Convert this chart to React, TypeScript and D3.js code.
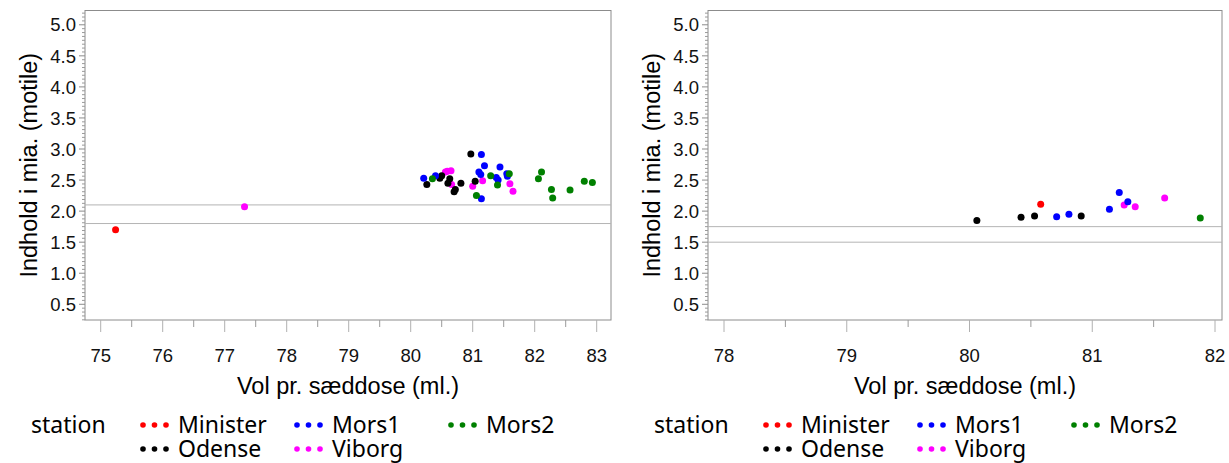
import React from "react";
import * as d3 from "d3";

const stations = ["Minister", "Mors1", "Mors2", "Odense", "Viborg"];
const stationColors = ["#ff0000", "#0000ff", "#008000", "#000000", "#ff00ff"];

// Left panel data
const leftStation = [
  "Minister",
  "Viborg", "Viborg", "Viborg", "Viborg", "Viborg", "Viborg", "Viborg", "Viborg", "Viborg",
  "Odense", "Odense", "Odense", "Odense", "Odense", "Odense", "Odense", "Odense", "Odense", "Odense",
  "Mors1", "Mors1", "Mors1", "Mors1", "Mors1", "Mors1", "Mors1", "Mors1", "Mors1", "Mors1", "Mors1", "Mors1",
  "Mors2", "Mors2", "Mors2", "Mors2", "Mors2", "Mors2", "Mors2", "Mors2", "Mors2", "Mors2", "Mors2", "Mors2",
];
const leftVol = [
  75.24,
  77.32, 80.56, 80.59, 80.65, 80.66, 81.16, 81.0, 81.6, 81.65,
  80.26, 80.47, 80.5, 80.63, 80.6, 80.81, 80.72, 80.7, 80.97, 81.04,
  80.21, 80.4, 81.14, 81.19, 81.44, 81.1, 81.13, 81.38, 81.55, 81.56, 81.41, 81.14,
  80.35, 81.29, 81.59, 81.4, 81.06, 82.11, 82.06, 82.27, 82.29, 82.57, 82.8, 82.93,
];
const leftMotile = [
  1.7,
  2.07, 2.63, 2.64, 2.65, 2.43, 2.49, 2.4, 2.44, 2.32,
  2.43, 2.53, 2.57, 2.52, 2.45, 2.45, 2.35, 2.31, 2.92, 2.48,
  2.53, 2.57, 2.91, 2.73, 2.71, 2.63, 2.59, 2.54, 2.6, 2.56, 2.5, 2.2,
  2.52, 2.57, 2.6, 2.42, 2.25, 2.63, 2.52, 2.35, 2.21, 2.34, 2.48, 2.46,
];
const leftRefLines = [2.1, 1.8];
const leftXTicks = [75, 76, 77, 78, 79, 80, 81, 82, 83];

// Right panel data
const rightStation = [
  "Odense", "Odense", "Odense", "Minister", "Mors1", "Mors1", "Odense",
  "Mors1", "Mors1", "Viborg", "Mors1", "Viborg", "Viborg", "Mors2",
];
const rightVol = [80.06, 80.42, 80.53, 80.58, 80.71, 80.81, 80.91, 81.14, 81.22, 81.26, 81.29, 81.35, 81.59, 81.88];
const rightMotile = [1.85, 1.9, 1.92, 2.11, 1.91, 1.95, 1.92, 2.03, 2.3, 2.1, 2.15, 2.07, 2.21, 1.89];
const rightRefLines = [1.75, 1.5];
const rightXTicks = [78, 79, 80, 81, 82];

const yTicks = [0.5, 1.0, 1.5, 2.0, 2.5, 3.0, 3.5, 4.0, 4.5, 5.0];

const xTitle = "Vol pr. sæddose (ml.)";
const yTitle = "Indhold i mia. (motile)";
const legendTitle = "station";

const color = d3.scaleOrdinal<string, string>().domain(stations).range(stationColors);

const tickFont = "'Liberation Sans', Arial, sans-serif";
const legendFont = "'Noto Sans', 'Open Sans', sans-serif";

type PanelProps = {
  offset: number;
  x0: number;
  x1: number;
  xDomain: [number, number];
  xTicks: number[];
  station: string[];
  vol: number[];
  motile: number[];
  refLines: number[];
};

function Panel({ offset, x0, x1, xDomain, xTicks, station, vol, motile, refLines }: PanelProps) {
  const top = 10.5;
  const bottom = 320;
  const x = d3.scaleLinear().domain(xDomain).range([x0, x1]);
  const y = d3.scaleLinear().domain([0.247, 5.23]).range([bottom, top]);
  const yMinor = d3.range(0.25, 5.23, 0.0625).filter((v) => Math.abs(v * 2 - Math.round(v * 2)) > 1e-6);
  const xMinor = xTicks.slice(0, -1).map((t) => t + 0.5).filter((v) => v <= xDomain[1]);
  const cx = (x0 + x1) / 2;
  const cy = (top + bottom) / 2;
  const legCols = [x0 + 55, x0 + 209, x0 + 363];
  const legRows = [433, 457];
  return (
    <g>
      {/* frame */}
      <rect x={x0} y={top} width={x1 - x0} height={bottom - top} fill="white" stroke="#8c8c8c" strokeWidth={1} />
      {/* reference lines */}
      {refLines.map((r) => (
        <line key={r} x1={x0} x2={x1} y1={y(r)} y2={y(r)} stroke="#b4b4b4" strokeWidth={1} />
      ))}
      {/* y ticks */}
      {yMinor.map((v) => (
        <line key={"ym" + v} x1={x0 - 3} x2={x0} y1={y(v)} y2={y(v)} stroke="#9a9a9a" strokeWidth={1} />
      ))}
      {yTicks.map((v) => (
        <g key={"y" + v}>
          <line x1={x0 - 6} x2={x0} y1={y(v)} y2={y(v)} stroke="#8c8c8c" strokeWidth={1} />
          <text x={x0 - 9} y={y(v)} dy="0.36em" textAnchor="end" fontFamily={tickFont} fontSize={18.5} fill="#111">
            {v.toFixed(1)}
          </text>
        </g>
      ))}
      {/* x ticks */}
      {xMinor.map((v) => (
        <line key={"xm" + v} x1={x(v)} x2={x(v)} y1={bottom} y2={bottom + 7} stroke="#9a9a9a" strokeWidth={1} />
      ))}
      {xTicks.map((v) => (
        <g key={"x" + v}>
          <line x1={x(v)} x2={x(v)} y1={bottom} y2={bottom + 12} stroke="#b0b0b0" strokeWidth={1} />
          <text x={x(v)} y={362} textAnchor="middle" fontFamily={tickFont} fontSize={18.5} fill="#111">
            {v}
          </text>
        </g>
      ))}
      {/* points */}
      {vol.map((v, i) => (
        <circle key={"p" + i} cx={x(v)} cy={y(motile[i])} r={3.5} fill={color(station[i])} />
      ))}
      {/* titles */}
      <text x={cx} y={394} textAnchor="middle" fontFamily={tickFont} fontSize={23.5} fill="#000">
        {xTitle}
      </text>
      <text
        transform={`translate(${offset + 37},${cy}) rotate(-90)`}
        textAnchor="middle"
        fontFamily={tickFont}
        fontSize={23.5}
        fill="#000"
      >
        {yTitle}
      </text>
      {/* legend */}
      <text x={offset + 31} y={legRows[0]} fontFamily={legendFont} fontSize={23} fill="#000">
        {legendTitle}
      </text>
      {stations.map((s, i) => {
        const col = legCols[i % 3];
        const row = legRows[Math.floor(i / 3)];
        return (
          <g key={"l" + s}>
            {[0, 1, 2].map((k) => (
              <circle key={k} cx={col + 3 + k * 11.5} cy={row - 8} r={2.8} fill={color(s)} />
            ))}
            <text x={col + 38} y={row} fontFamily={legendFont} fontSize={23} fill="#000">
              {s}
            </text>
          </g>
        );
      })}
    </g>
  );
}

export default function App() {
  const leftX = d3.scaleLinear().domain([75, 83]).range([100.7, 596.7]);
  const rightX = d3.scaleLinear().domain([78, 82]).range([724, 1215]);
  return (
    <svg width={1229} height={463} style={{ position: "absolute", left: 0, top: 0, background: "white" }}>
      <rect width={1229} height={463} fill="white" />
      <Panel
        offset={0}
        x0={85}
        x1={611}
        xDomain={[leftX.invert(85), leftX.invert(611)]}
        xTicks={leftXTicks}
        station={leftStation}
        vol={leftVol}
        motile={leftMotile}
        refLines={leftRefLines}
      />
      <Panel
        offset={623}
        x0={708}
        x1={1222}
        xDomain={[rightX.invert(708), rightX.invert(1222)]}
        xTicks={rightXTicks}
        station={rightStation}
        vol={rightVol}
        motile={rightMotile}
        refLines={rightRefLines}
      />
    </svg>
  );
}
